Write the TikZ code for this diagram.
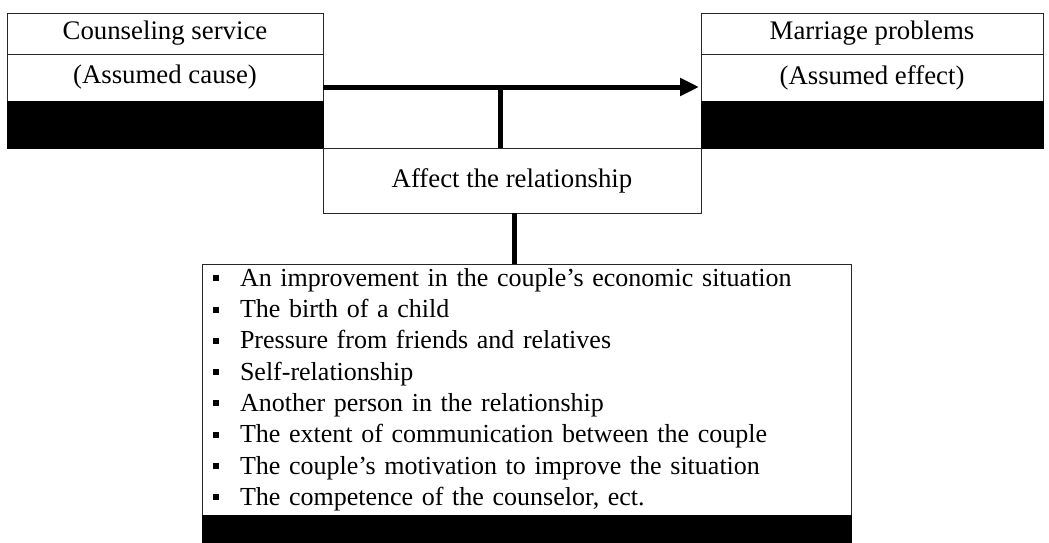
\documentclass[tikz,border=0pt]{standalone}
\usepackage{fontspec}
\setmainfont{Liberation Serif}
\usetikzlibrary{positioning,arrows.meta}
\newcommand{\sqbullet}{\raisebox{5pt}{\rule{6pt}{6pt}}\hspace{21pt}}

\begin{document}
\begin{tikzpicture}[x=1pt, y=-1pt, node distance=0pt,
  every node/.style={font=\fontsize{26.8}{31.3}\selectfont, inner sep=0pt, outer sep=0pt},
  cell/.style={draw=black!85, line width=0.8pt},
  bar/.style={draw=black, fill=black, line width=0.8pt},
  arr/.style={-{Triangle[length=19pt,width=17pt]}, line width=5pt},
  link/.style={line width=5pt}]
\useasboundingbox (0,0) rectangle (1049,543);
% cause column
\node[cell, minimum width=316pt, minimum height=41pt, anchor=north west] (cause) at (7,13) {Counseling service};
\node[cell, minimum width=316pt, minimum height=47pt, below=of cause] (causenote) {(Assumed cause)};
\node[bar, minimum width=316pt, minimum height=47pt, below=of causenote] (causebar) {};
% effect column
\node[cell, minimum width=342pt, minimum height=41pt, anchor=north west] (effect) at (701,13) {Marriage problems};
\node[cell, minimum width=342pt, minimum height=47pt, below=of effect] (effectnote) {(Assumed effect)};
\node[bar, minimum width=342pt, minimum height=47pt, below=of effectnote] (effectbar) {};
% moderator and list of factors
\node[cell, minimum width=378pt, minimum height=65pt, anchor=north west] (affect) at (323,148) {Affect the relationship};
\node[cell, font=\fontsize{26}{31.3}\selectfont, minimum width=649pt, minimum height=251pt, text width=627pt, inner xsep=11pt, align=left, anchor=north west] (factors) at (202,264) {%
\sqbullet An improvement in the couple’s economic situation\\
\sqbullet The birth of a child\\
\sqbullet Pressure from friends and relatives\\
\sqbullet Self-relationship\\
\sqbullet Another person in the relationship\\
\sqbullet The extent of communication between the couple\\
\sqbullet The couple’s motivation to improve the situation\\
\sqbullet The competence of the counselor, ect.};
\node[bar, minimum width=649pt, minimum height=28pt, below=of factors] (factorsbar) {};
% connectors
\coordinate (tail) at ([yshift=-9.5pt]causenote.east);
\draw[arr, shorten >=2pt] (tail) -- (tail -| effectnote.west);
\draw[link] ([xshift=-12pt]affect.north) -- ([xshift=-12pt]affect.north |- tail);
\draw[link] ([xshift=2pt]affect.south) -- ([xshift=2pt]affect.south |- factors.north);
\end{tikzpicture}
\end{document}
